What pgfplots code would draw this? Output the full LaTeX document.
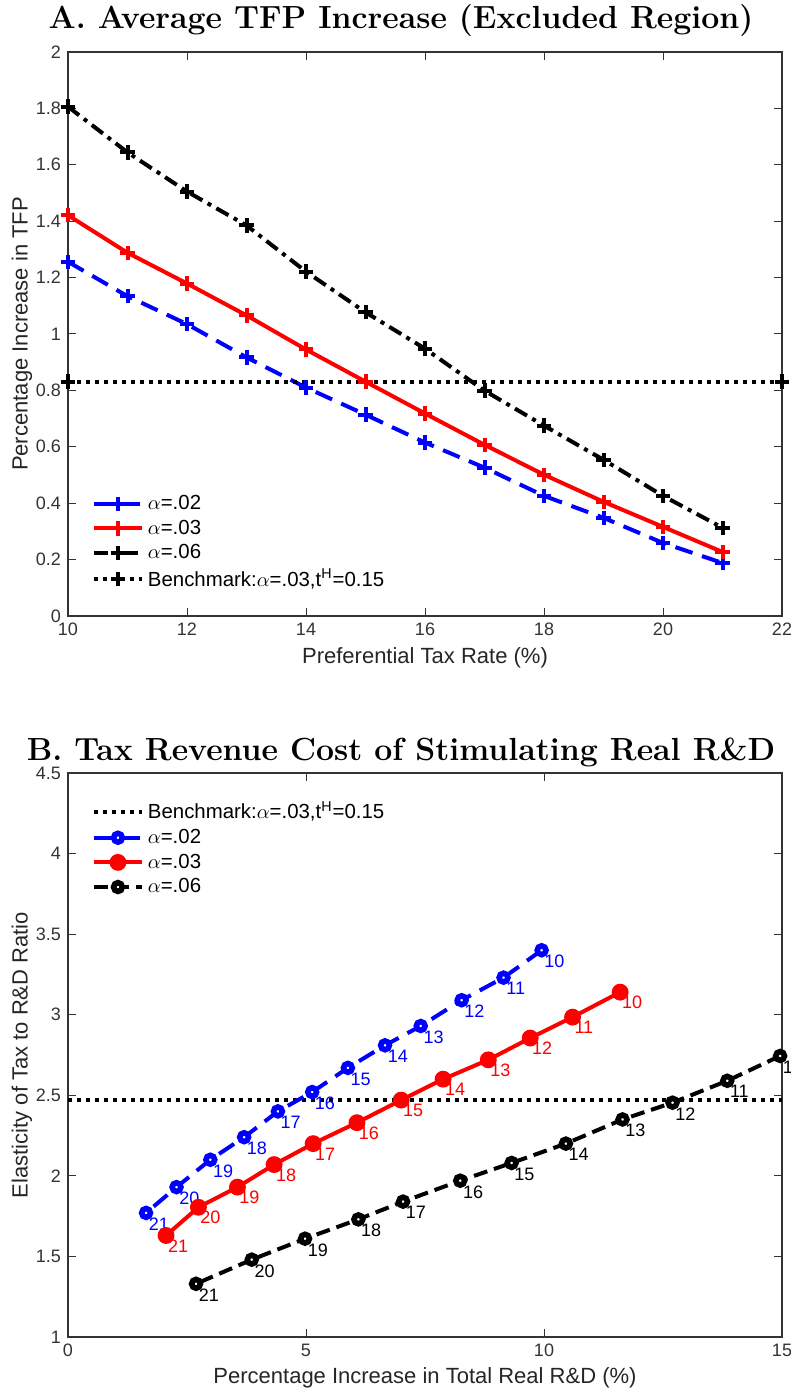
\documentclass[border=0pt]{standalone}
\usepackage{pgfplots}
\pgfplotsset{compat=1.18}
\usepackage{fontspec}
\newfontfamily\arial{Liberation Sans}
\pgfplotsset{
  panel/.style={
    scale only axis, width=357pt, height=282pt,
    axis line style={black!80, line width=0.6pt},
    tick style={black!80, line width=0.5pt},
    major tick length=4pt, tick align=inside,
    ticklabel style={font=\arial\fontsize{9}{10}\selectfont, text=black!80},
    /pgf/number format/assume math mode=true,
    label style={font=\arial\fontsize{11}{13}\selectfont, text=black!85},
    ylabel style={at={(axis description cs:-0.0644,0.5)}, anchor=center},
    xlabel style={at={(axis description cs:0.5,0)}, anchor=center, yshift=-21pt},
    title style={font=\fontsize{16}{19}\selectfont\bfseries, at={(axis description cs:0.5,1)}, anchor=center, xshift=-12pt},
    legend style={draw=none, fill=none, inner sep=0pt, font=\arial\fontsize{10.2}{12}\selectfont, row sep=-0.3pt},
    legend cell align=left,
    legend image code/.code={\draw[mark repeat=2,mark phase=2,##1] plot coordinates {(0pt,0pt) (12pt,0pt) (24pt,0pt)};},
  }
}
\begin{document}
\begin{tikzpicture}
\begin{axis}[panel, at={(34pt,387.5pt)}, anchor=south west,
  xmin=10, xmax=22, ymin=0, ymax=2,
  xtick={10,12,...,22}, ytick={0,0.2,...,2.01},
  xlabel={Preferential Tax Rate (\%)},
  ylabel={Percentage Increase in TFP},
  title={A. Average TFP Increase (Excluded Region)},
  title style={yshift=9.5pt},
  legend style={at={(axis description cs:0.033,0.222)}, anchor=north west},
]
\addplot[blue, line width=2pt, dash pattern=on 9pt off 5pt, mark=+, mark size=3.6pt, mark options={solid, line width=2pt}] coordinates {
(10,1.256) (11,1.134) (12,1.035) (13,0.917) (14,0.810) (15,0.714) (16,0.615) (17,0.526) (18,0.426) (19,0.348) (20,0.259) (21,0.188)};
\addlegendentry{$\alpha$=.02}
\addplot[red, line width=2pt, mark=+, mark size=3.6pt, mark options={solid, line width=2pt}] coordinates {
(10,1.421) (11,1.288) (12,1.179) (13,1.066) (14,0.945) (15,0.831) (16,0.718) (17,0.607) (18,0.501) (19,0.405) (20,0.316) (21,0.227)};
\addlegendentry{$\alpha$=.03}
\addplot[black, line width=2pt, dash pattern=on 7pt off 3pt on 2pt off 3pt, mark=+, mark size=3.6pt, mark options={solid, line width=2pt}] coordinates {
(10,1.806) (11,1.644) (12,1.505) (13,1.385) (14,1.221) (15,1.077) (16,0.948) (17,0.799) (18,0.675) (19,0.554) (20,0.426) (21,0.313)};
\addlegendentry{$\alpha$=.06}
\addplot[black, line width=2pt, dash pattern=on 2pt off 2.5pt, mark=+, mark size=3.6pt, mark options={solid, line width=2pt}] coordinates {
(10,0.831) (22,0.831)};
\addlegendentry{Benchmark:$\alpha$=.03,t\textsuperscript{H}=0.15}
\end{axis}
\begin{axis}[panel, at={(34pt,27pt)}, anchor=south west,
  xmin=0, xmax=15, ymin=1, ymax=4.5,
  xtick={0,5,10,15}, ytick={1,1.5,...,4.5},
  xlabel={Percentage Increase in Total Real R\&D (\%)},
  ylabel={Elasticity of Tax to R\&D Ratio},
  title={B. Tax Revenue Cost of Stimulating Real R\&D},
  title style={yshift=4.5pt},
  xlabel style={yshift=0.5pt},
  legend style={at={(axis description cs:0.033,0.957)}, anchor=north west},
  nodes near coords, point meta=explicit symbolic,
]
\addplot[black, line width=2pt, dash pattern=on 2pt off 2.5pt, nodes near coords={}] coordinates {(0,2.47) (15,2.47)};
\addlegendentry{Benchmark:$\alpha$=.03,t\textsuperscript{H}=0.15}
\addplot[blue, line width=2pt, dash pattern=on 9pt off 5pt, mark=*, mark size=2.2pt, mark options={solid, fill=white, line width=2.8pt},
  nodes near coords style={anchor=north west, inner sep=0pt, yshift=-1pt, font=\arial\fontsize{9}{10}\selectfont, text=blue}] table[meta=l] {
x y l
9.95 3.40 10
9.15 3.23 11
8.27 3.09 12
7.41 2.93 13
6.66 2.81 14
5.88 2.67 15
5.13 2.52 16
4.41 2.40 17
3.70 2.24 18
2.99 2.10 19
2.28 1.93 20
1.64 1.77 21
};
\addlegendentry{$\alpha$=.02}
\addplot[red, line width=2pt, mark=*, mark size=3.2pt, mark options={solid, fill=red},
  nodes near coords style={anchor=north west, inner sep=0pt, yshift=-1pt, font=\arial\fontsize{9}{10}\selectfont, text=red}] table[meta=l] {
x y l
11.60 3.14 10
10.60 2.985 11
9.71 2.855 12
8.83 2.72 13
7.88 2.60 14
7.00 2.47 15
6.07 2.33 16
5.15 2.20 17
4.33 2.07 18
3.56 1.93 19
2.74 1.805 20
2.06 1.63 21
};
\addlegendentry{$\alpha$=.03}
\addplot[black, line width=2pt, dash pattern=on 7pt off 3.5pt, mark=*, mark size=2.2pt, mark options={solid, fill=white, line width=2.8pt},
  nodes near coords style={anchor=north west, inner sep=0pt, yshift=-1pt, font=\arial\fontsize{9}{10}\selectfont, text=black}] table[meta=l] {
x y l
14.96 2.744 10
13.85 2.59 11
12.70 2.454 12
11.65 2.35 13
10.46 2.20 14
9.32 2.08 15
8.24 1.97 16
7.04 1.84 17
6.10 1.73 18
4.98 1.61 19
3.86 1.48 20
2.69 1.33 21
};
\addlegendentry{$\alpha$=.06}
\end{axis}
\pgfresetboundingbox
\path[use as bounding box] (0,0) rectangle (395.5pt,695.5pt);
\end{tikzpicture}
\end{document}
